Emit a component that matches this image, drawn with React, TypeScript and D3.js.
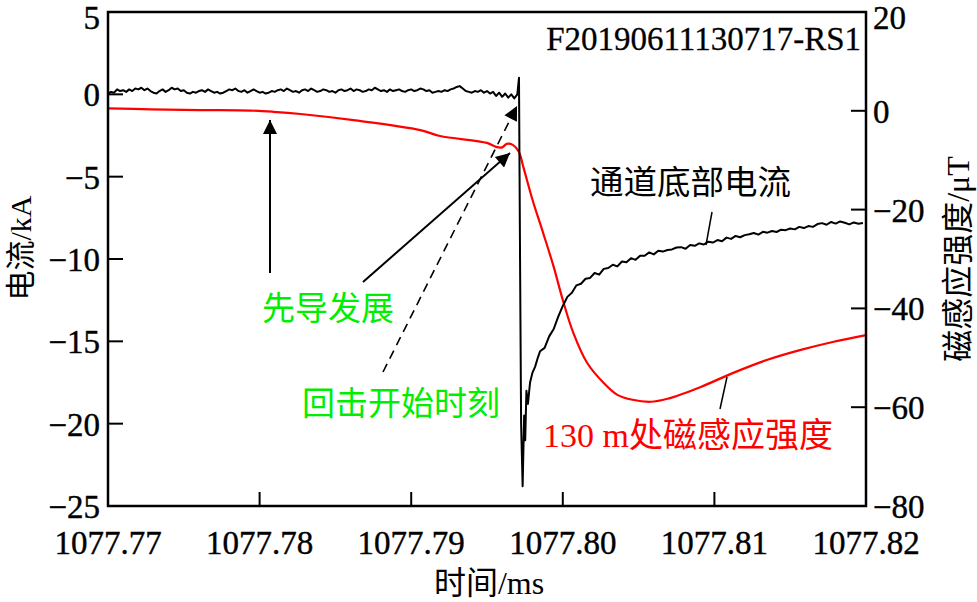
import React from "react";
import * as d3 from "d3";

// ---------- data ----------
const xTicks = [1077.77, 1077.78, 1077.79, 1077.8, 1077.81, 1077.82];
const leftTicks = [5, 0, -5, -10, -15, -20, -25];
const rightTicks = [20, 0, -20, -40, -60, -80];

// channel-base current (kA), pre-stroke record sampled every 0.0002 ms from 1077.770
const preStart = 1077.77;
const preStep = 0.0002;
const preCurrent = [
  0.05, 0.15, 0.1, 0.3, 0.2, 0.25, 0.15, 0.3, 0.2, 0.35,
  0.3, 0.4, 0.25, 0.35, 0.2, 0.1, 0.05, 0.2, 0.3, 0.15,
  0.25, 0.4, 0.3, 0.35, 0.2, 0.25, 0.1, 0.05, 0.15, 0.1,
  0.2, 0.25, 0.15, 0.3, 0.2, 0.1, 0.15, 0.05, 0.1, 0.2,
  0.3, 0.25, 0.35, 0.2, 0.15, 0.25, 0.1, 0.2, 0.3, 0.2,
  0.1, 0.15, 0.05, 0.1, 0.2, 0.15, 0.25, 0.3, 0.2, 0.35,
  0.25, 0.15, 0.2, 0.1, 0.25, 0.3, 0.2, 0.35, 0.25, 0.15,
  0.2, 0.3, 0.25, 0.15, 0.2, 0.1, 0.25, 0.3, 0.2, 0.25,
  0.35, 0.2, 0.3, 0.25, 0.15, 0.2, 0.3, 0.25, 0.4, 0.3,
  0.2, 0.25, 0.15, 0.3, 0.2, 0.25, 0.3, 0.2, 0.15, 0.25,
  0.3, 0.2, 0.25, 0.35, 0.3, 0.2, 0.25, 0.1, 0.15, 0.2,
  0.15, 0.25, 0.2, 0.3, 0.35, 0.45, 0.5, 0.35, 0.2, 0.15,
  0.1, 0.2, 0.15, 0.25, 0.1, 0.2, 0.05, 0.15, -0.1, 0.1,
  -0.15, 0.05, -0.2, 0.0, -0.25,
];

// return-stroke onset (time ms, current kA)
const strokeTime = [1077.797, 1077.79711, 1077.79718, 1077.79725, 1077.79735, 1077.79745, 1077.79752, 1077.7976, 1077.7977, 1077.79784, 1077.798, 1077.79817, 1077.79835];
const strokeCurrent = [0.0, 1.0, -10, -20, -23.8, -19.5, -21.0, -18.0, -18.8, -17.5, -16.9, -16.55, -16.0];

// decay record sampled every 0.0003 ms from 1077.7985
const decayStart = 1077.7985;
const decayStep = 0.0003;
const decayCurrent = [
  -15.6, -15.4, -14.7, -14.25, -13.5, -12.85, -12.3, -12.05, -11.6, -11.5,
  -11.2, -11.15, -10.85, -10.95, -10.6, -10.55, -10.35, -10.45, -10.15, -10.2,
  -9.95, -10.05, -9.8, -9.8, -9.6, -9.72, -9.5, -9.55, -9.45, -9.42,
  -9.3, -9.28, -9.38, -9.15, -9.2, -9.05, -9.12, -8.95, -9.0, -8.85,
  -8.92, -8.7, -8.78, -8.6, -8.68, -8.55, -8.5, -8.42, -8.52, -8.35,
  -8.4, -8.3, -8.36, -8.22, -8.25, -8.15, -8.2, -8.05, -8.12, -8.0,
  -8.05, -7.88, -7.82, -7.92, -7.75, -7.85, -7.72, -7.8, -7.9, -7.78,
  -7.86, -7.82,
];

// magnetic flux density at 130 m (μT)
const fieldTime = [1077.77, 1077.7728, 1077.7761, 1077.7794, 1077.7809, 1077.7827, 1077.7862, 1077.7906, 1077.7919, 1077.795, 1077.7956, 1077.796, 1077.7963, 1077.7967, 1077.7971, 1077.7974, 1077.798, 1077.7987, 1077.7994, 1077.80, 1077.8007, 1077.8016, 1077.8027, 1077.8036, 1077.8046, 1077.8058, 1077.8069, 1077.8091, 1077.8112, 1077.8135, 1077.8157, 1077.8178, 1077.82];
const fieldValue = [0.5, 0.3, 0.15, 0.05, -0.2, -0.65, -1.9, -3.9, -5.1, -6.5, -7.3, -7.4, -6.7, -6.9, -8.3, -11.4, -18.0, -24.7, -31.6, -38.3, -45.0, -51.0, -55.1, -57.5, -58.5, -58.9, -58.3, -55.9, -53.1, -50.4, -48.4, -46.8, -45.4];

// ---------- layout ----------
const W = 977;
const H = 602;
const L = 108, R = 866, T = 12, B = 506;
const FONT = "'Liberation Serif', 'Times New Roman', 'Noto Sans CJK SC', serif";
const RED = "#ff0000";
const GREEN = "#00ee00";

const x = d3.scaleLinear().domain([1077.77, 1077.82]).range([L, R]);
const yL = d3.scaleLinear().domain([-25, 5]).range([B, T]);
const yR = d3.scaleLinear().domain([-80, 20]).range([B, T]);

const fmt = (v: number) => (v < 0 ? "\u2212" + Math.abs(v) : String(v));

export default function App() {
  const current: [number, number][] = [
    ...preCurrent.map((v, i) => [preStart + i * preStep, v] as [number, number]),
    ...strokeTime.map((t, i) => [t, strokeCurrent[i]] as [number, number]),
    ...decayCurrent.map((v, i) => [decayStart + i * decayStep, v] as [number, number]),
  ];
  const field: [number, number][] = fieldTime.map((t, i) => [t, fieldValue[i]]);

  const currentLine = d3
    .line<[number, number]>()
    .x((d) => x(d[0]))
    .y((d) => yL(d[1]));
  const fieldLine = d3
    .line<[number, number]>()
    .x((d) => x(d[0]))
    .y((d) => yR(d[1]))
    .curve(d3.curveCatmullRom.alpha(0.5));

  const tickText = { fontSize: 33, stroke: "#000", strokeWidth: 0.4 };

  return (
    <svg
      width={W}
      height={H}
      viewBox={`0 0 ${W} ${H}`}
      style={{ position: "absolute", left: 0, top: 0, background: "#fff" }}
      fontFamily={FONT}
    >
      <defs>
        <marker id="ah" viewBox="0 0 10 10" refX="10" refY="5" markerWidth="16" markerHeight="14" markerUnits="userSpaceOnUse" orient="auto">
          <path d="M0,0 L10,5 L0,10 z" fill="#000" />
        </marker>
      </defs>
      <rect x={0} y={0} width={W} height={H} fill="#fff" />

      {/* data */}
      <path d={fieldLine(field) || ""} fill="none" stroke={RED} strokeWidth={2.2} />
      <path d={currentLine(current) || ""} fill="none" stroke="#000" strokeWidth={2} strokeLinejoin="round" />

      {/* frame */}
      <rect x={L} y={T} width={R - L} height={B - T} fill="none" stroke="#000" strokeWidth={2.5} />

      {/* left ticks */}
      {leftTicks.map((v) => (
        <g key={"l" + v}>
          <line x1={L} x2={L + 15} y1={yL(v)} y2={yL(v)} stroke="#000" strokeWidth={2} />
          <text x={100} y={yL(v) + (v === 5 ? 17 : 12)} textAnchor="end" {...tickText}>{fmt(v)}</text>
        </g>
      ))}
      {/* right ticks */}
      {rightTicks.map((v) => (
        <g key={"r" + v}>
          <line x1={R - 15} x2={R} y1={yR(v)} y2={yR(v)} stroke="#000" strokeWidth={2} />
          <text x={873} y={yR(v) + (v === 20 ? 17 : 12)} textAnchor="start" {...tickText}>{fmt(v)}</text>
        </g>
      ))}
      {/* bottom ticks */}
      {xTicks.map((t) => (
        <g key={"x" + t}>
          <line x1={x(t)} x2={x(t)} y1={B} y2={B - 14} stroke="#000" strokeWidth={2} />
          <text x={x(t)} y={554} textAnchor="middle" {...tickText}>{t.toFixed(2)}</text>
        </g>
      ))}

      {/* axis titles */}
      <text x={489} y={594} fontSize={32} textAnchor="middle">时间/ms</text>
      <text transform="translate(31,248) rotate(-90)" fontSize={30} textAnchor="middle">电流/kA</text>
      <text transform="translate(969,259) rotate(-90)" fontSize={32} textAnchor="middle">磁感应强度/μT</text>

      {/* annotations */}
      <text x={861} y={50} fontSize={33} textAnchor="end" stroke="#000" strokeWidth={0.3}>F20190611130717-RS1</text>
      <text x={590} y={194} fontSize={33.5}>通道底部电流</text>
      <line x1={712} y1={212} x2={706} y2={245} stroke="#000" strokeWidth={1.5} />
      <text x={543} y={447} fontSize={34} fill={RED}>130 m处磁感应强度</text>
      <line x1={727} y1={377} x2={720} y2={409} stroke="#000" strokeWidth={1.5} />

      <text x={262} y={320} fontSize={33} fill={GREEN}>先导发展</text>
      <text x={302} y={415} fontSize={33} fill={GREEN}>回击开始时刻</text>

      <line x1={270} y1={273} x2={270} y2={120} stroke="#000" strokeWidth={2} markerEnd="url(#ah)" />
      <line x1={363} y1={282} x2={510} y2={153} stroke="#000" strokeWidth={2} markerEnd="url(#ah)" />
      <line x1={383} y1={372} x2={517} y2={106} stroke="#000" strokeWidth={1.6} strokeDasharray="9 6" markerEnd="url(#ah)" />
    </svg>
  );
}
